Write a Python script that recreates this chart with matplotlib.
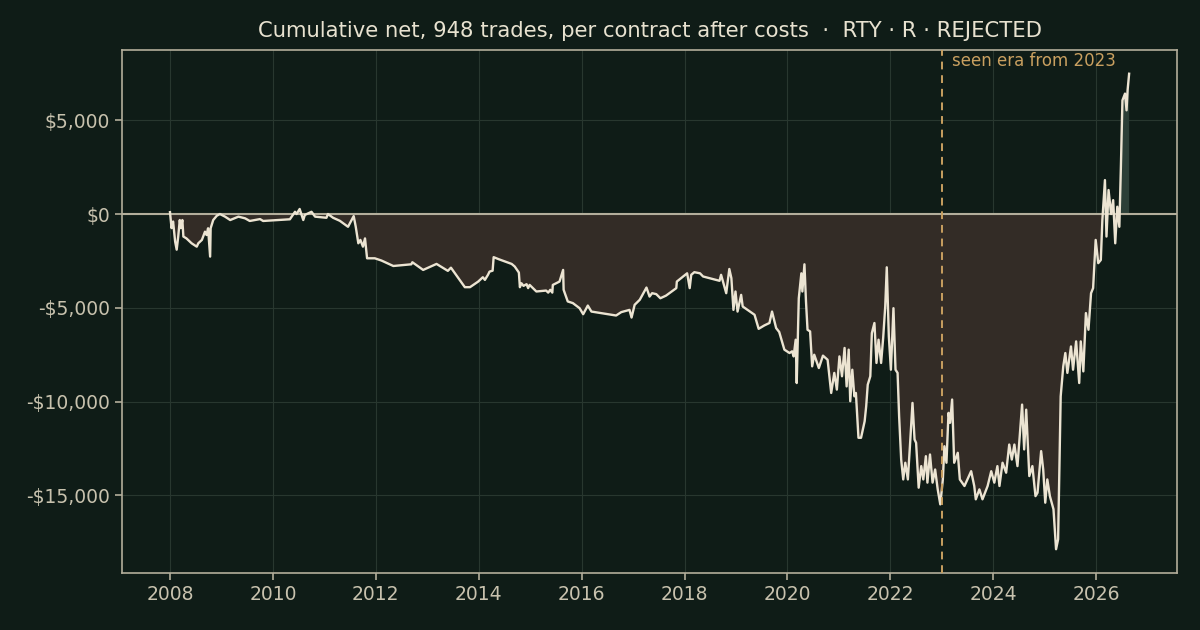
import matplotlib
matplotlib.use("Agg")
import matplotlib.pyplot as plt
import matplotlib.ticker as mticker
import numpy as np

years = [
2008.00,2008.03,2008.06,2008.10,2008.13,2008.16,2008.19,2008.21,2008.24,2008.26,
2008.32,2008.42,2008.52,2008.55,2008.62,2008.68,2008.71,2008.74,2008.78,2008.79,
2008.84,2008.91,2008.97,2009.07,2009.17,2009.33,2009.46,2009.55,2009.75,2009.81,
2010.33,2010.43,2010.46,2010.52,2010.59,2010.62,2010.75,2010.82,2011.04,2011.07,
2011.17,2011.30,2011.46,2011.57,2011.61,2011.66,2011.70,2011.75,2011.79,2011.83,
2011.98,2012.11,2012.34,2012.69,2012.71,2012.92,2013.18,2013.40,2013.46,2013.73,
2013.83,2013.99,2014.08,2014.12,2014.18,2014.21,2014.27,2014.29,2014.39,2014.64,
2014.70,2014.78,2014.80,2014.83,2014.87,2014.93,2014.96,2014.99,2015.12,2015.31,
2015.35,2015.39,2015.43,2015.44,2015.57,2015.64,2015.65,2015.73,2015.83,2015.96,
2016.03,2016.12,2016.19,2016.67,2016.77,2016.93,2016.97,2017.03,2017.13,2017.26,
2017.32,2017.37,2017.45,2017.53,2017.64,2017.84,2017.85,2018.05,2018.10,2018.13,
2018.19,2018.30,2018.36,2018.68,2018.71,2018.81,2018.87,2018.91,2018.95,2018.99,
2019.03,2019.10,2019.13,2019.36,2019.44,2019.55,2019.65,2019.70,2019.78,2019.84,
2019.94,2020.04,2020.09,2020.12,2020.16,2020.18,2020.22,2020.27,2020.29,2020.33,
2020.36,2020.39,2020.44,2020.48,2020.52,2020.61,2020.69,2020.78,2020.85,2020.91,
2020.96,2021.01,2021.06,2021.11,2021.15,2021.19,2021.22,2021.26,2021.30,2021.33,
2021.38,2021.43,2021.50,2021.53,2021.56,2021.61,2021.64,2021.69,2021.73,2021.77,
2021.82,2021.86,2021.90,2021.93,2021.97,2022.01,2022.06,2022.10,2022.14,2022.17,
2022.21,2022.25,2022.29,2022.34,2022.38,2022.43,2022.47,2022.50,2022.55,2022.60,
2022.64,2022.69,2022.72,2022.77,2022.82,2022.87,2022.92,2022.97,2023.02,2023.05,
2023.09,2023.13,2023.16,2023.20,2023.24,2023.31,2023.35,2023.44,2023.57,2023.63,
2023.66,2023.73,2023.79,2023.89,2023.96,2024.02,2024.08,2024.12,2024.18,2024.25,
2024.31,2024.36,2024.41,2024.47,2024.56,2024.60,2024.64,2024.70,2024.76,2024.82,
2024.86,2024.93,2024.97,2025.01,2025.05,2025.10,2025.17,2025.22,2025.26,2025.30,
2025.31,2025.36,2025.40,2025.44,2025.51,2025.55,2025.61,2025.67,2025.70,2025.75,
2025.80,2025.85,2025.90,2025.94,2025.99,2026.04,2026.09,2026.12,2026.17,2026.20,
2026.24,2026.29,2026.33,2026.37,2026.41,2026.45,2026.48,2026.51,2026.56,2026.59,
2026.61,2026.64,
]
cum_net = [
100,-750,-400,-1470,-1900,-1200,-320,-750,-320,-1200,
-1300,-1560,-1740,-1560,-1380,-940,-1120,-760,-2270,-760,
-320,-90,0,-140,-320,-140,-230,-370,-270,-370,
-280,120,0,270,-320,-50,120,-140,-200,0,
-200,-360,-680,-110,-680,-1560,-1380,-1740,-1300,-2360,
-2360,-2480,-2770,-2680,-2570,-2980,-2660,-3030,-2860,-3900,
-3900,-3600,-3370,-3510,-3240,-3070,-3020,-2300,-2410,-2660,
-2800,-3120,-3900,-3690,-3830,-3740,-3950,-3780,-4130,-4080,
-4190,-4040,-4190,-3780,-3600,-2980,-4040,-4660,-4750,-5020,
-5340,-4880,-5200,-5410,-5230,-5110,-5520,-4840,-4570,-3920,
-4400,-4220,-4270,-4490,-4350,-3950,-3600,-3160,-3950,-3240,
-3100,-3160,-3330,-3560,-3240,-4220,-2930,-3420,-5110,-4130,
-5200,-4310,-4930,-5370,-6120,-5940,-5810,-5200,-6080,-6290,
-7230,-7410,-7320,-7590,-6700,-9010,-4490,-3160,-4130,-2680,
-4660,-6170,-6260,-8120,-7500,-8210,-7550,-7770,-9540,-8470,
-9360,-7590,-8650,-7140,-9190,-7230,-9980,-8300,-9720,-9540,
-11930,-11930,-11050,-10250,-9100,-8650,-6350,-5810,-7940,-6700,
-7940,-6610,-4930,-2840,-6520,-8300,-5020,-8300,-8470,-10780,
-13090,-14150,-13260,-14150,-12380,-10070,-12020,-12200,-14590,-13440,
-14150,-12910,-14320,-12820,-14320,-13620,-14680,-15480,-14150,-12380,
-13260,-10600,-11130,-9890,-13260,-12730,-14150,-14500,-13710,-14500,
-15210,-14680,-15210,-14500,-13710,-14320,-13440,-14500,-13260,-13790,
-12290,-13090,-12290,-13440,-10160,-12550,-10430,-13970,-13440,-15040,
-14860,-12640,-13620,-15390,-14150,-15040,-15740,-17870,-17340,-11310,
-9720,-8120,-7410,-8470,-7060,-8300,-6790,-9010,-6790,-8390,
-5280,-6170,-4220,-3950,-1380,-2620,-2450,-320,1810,-1200,
1280,0,740,-1560,390,-680,2520,6060,6420,5530,
6600,7480,
]
seen_from = 2023.0
title = "Cumulative net, 948 trades, per contract after costs  \u00b7  RTY \u00b7 R \u00b7 REJECTED"
era_label = "seen era from 2023"
xticks = [2008, 2010, 2012, 2014, 2016, 2018, 2020, 2022, 2024, 2026]

BG = "#0f1c17"
LINE = "#ece4d2"
SPINE = "#b3ae9b"
TICK = "#c8c2ae"
GRID = "#28372f"
NEG = "#332c26"
POS = "#2c3f37"
ERA = "#c9a060"

plt.rcParams['font.family'] = ['DejaVu Sans']
fig = plt.figure(figsize=(12, 6.3), dpi=100, facecolor=BG)
ax = fig.add_axes([0.1017, 0.0905, 0.8792, 0.8302])
ax.set_facecolor(BG)

x = np.array(years)
y = np.array(cum_net, dtype=float)
ax.fill_between(x, y, 0, where=y <= 0, interpolate=True, color=NEG, lw=0, zorder=1)
ax.fill_between(x, y, 0, where=y >= 0, interpolate=True, color=POS, lw=0, zorder=1)
ax.axhline(0, color=SPINE, lw=1.5, zorder=2)
ax.plot(x, y, color=LINE, lw=1.7, zorder=3)
ax.axvline(seen_from, color=ERA, lw=1.4, ls=(0, (4, 3)), zorder=4)
ax.text(seen_from + 0.2, 0.997, era_label, transform=ax.get_xaxis_transform(),
        color=ERA, fontsize=12, ha='left', va='top')

ax.set_xticks(xticks)
ax.yaxis.set_major_locator(mticker.MultipleLocator(5000))
ax.yaxis.set_major_formatter(mticker.FuncFormatter(
    lambda v, p: ("-$" if v < 0 else "$") + f"{abs(v):,.0f}"))
ax.margins(x=0.05, y=0.05)
ax.grid(True, color=GRID, lw=0.8)
ax.set_axisbelow(True)
for s in ax.spines.values():
    s.set_color(SPINE)
    s.set_linewidth(1.2)
ax.tick_params(colors=SPINE, labelcolor=TICK, labelsize=13.5, length=5, width=1.2)
ax.set_title(title, color="#e8e2d0", fontsize=15.2, pad=9)

fig.savefig("out.png", dpi=100, facecolor=BG)
